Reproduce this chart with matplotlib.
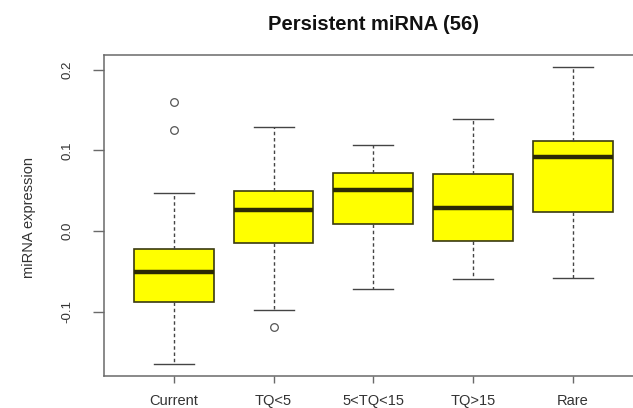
import matplotlib
matplotlib.use("Agg")
import matplotlib.pyplot as plt

# five-number summaries per smoking group
groups = ["Current", "TQ<5", "5<TQ<15", "TQ>15", "Rare"]
whislo = [-0.165, -0.098, -0.0725, -0.060, -0.058]
q1 = [-0.0878, -0.0153, 0.0083, -0.0128, 0.024]
med = [-0.0509, 0.0261, 0.0509, 0.0286, 0.0923]
q3 = [-0.0227, 0.0497, 0.0717, 0.0708, 0.1122]
whishi = [0.0468, 0.1296, 0.1072, 0.1395, 0.204]
fliers = [[0.160, 0.125], [-0.1197], [], [], []]

plt.rcParams["font.family"] = ["Liberation Sans", "DejaVu Sans"]

stats = []
for i, g in enumerate(groups):
    stats.append(dict(label=g, whislo=whislo[i], q1=q1[i], med=med[i],
                      q3=q3[i], whishi=whishi[i], fliers=fliers[i]))

fig = plt.figure(figsize=(6.33, 4.08), dpi=100)
ax = fig.add_axes([104 / 633, 32 / 408, 538.6 / 633, 321 / 408])

ax.bxp(stats, positions=range(1, 6), widths=0.8, patch_artist=True,
       boxprops=dict(facecolor="#ffff00", edgecolor="#3a3a10", linewidth=1.2),
       medianprops=dict(color="#2b2a05", linewidth=3.2, solid_capstyle="butt"),
       whiskerprops=dict(color="#444444", linewidth=1, linestyle=(0, (2.5, 2))),
       capprops=dict(color="#444444", linewidth=1),
       capwidths=0.4,
       flierprops=dict(marker="o", markerfacecolor="none",
                       markeredgecolor="#555555", markersize=5.5,
                       markeredgewidth=0.9))

ax.set_xlim(0.3, 5.7)
ax.set_ylim(-0.1801, 0.2186)
ax.set_yticks([-0.1, 0.0, 0.1, 0.2])
ax.set_yticklabels(["-0.1", "0.0", "0.1", "0.2"], rotation=90, va="center")
ax.set_xticklabels(groups)

for s in ax.spines.values():
    s.set_color("#6a6a6a")
    s.set_linewidth(1.1)
ax.tick_params(colors="#6a6a6a", width=1, labelcolor="#333333")
ax.tick_params(axis="y", length=8, pad=14, labelsize=9.5)
ax.tick_params(axis="x", length=5, pad=8, labelsize=10.5)

ax.set_ylabel("miRNA expression", fontsize=10.5, color="#333333")
ax.yaxis.set_label_coords(-0.127, 0.495)
fig.text(374 / 633, 1 - 24 / 408, "Persistent miRNA (56)", ha="center",
         va="center", fontsize=14.5, fontweight="bold", color="#111111")

fig.savefig("out.png", dpi=100)
